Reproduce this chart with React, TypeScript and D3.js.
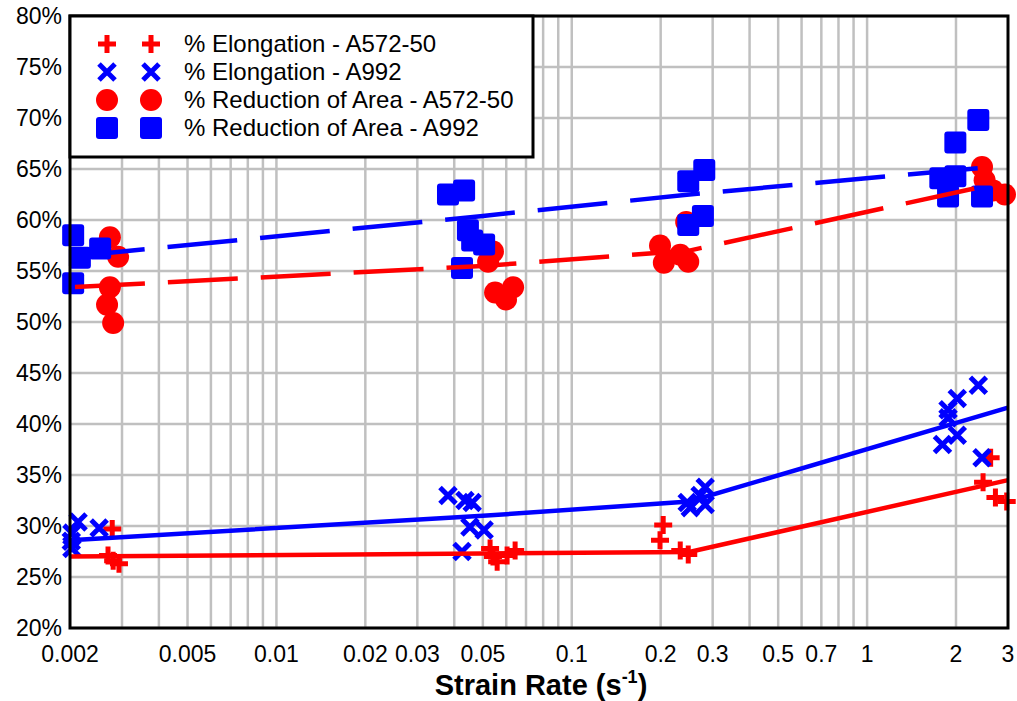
import React, { useMemo } from 'react';
import * as d3 from 'd3';

// [strain rate (1/s), percent]
const elongA572: [number, number][] = [
  [0.00278, 29.7], [0.00269, 27.1], [0.0028, 26.6], [0.00293, 26.3],
  [0.0529, 27.8], [0.0541, 27.0], [0.0559, 26.5], [0.0604, 27.1], [0.0643, 27.6],
  [0.204, 30.1], [0.199, 28.6], [0.233, 27.6], [0.248, 27.2],
  [2.62, 36.7], [2.47, 34.3], [2.72, 32.8], [2.97, 32.4]
];
const elongA992: [number, number][] = [
  [0.00213, 30.4], [0.00251, 29.8], [0.00203, 29.3], [0.00202, 28.5], [0.00203, 27.8],
  [0.0381, 33.0], [0.0435, 32.5], [0.046, 32.3], [0.0452, 29.9], [0.0505, 29.6], [0.0425, 27.5],
  [0.246, 32.3], [0.272, 33.0], [0.283, 33.8], [0.283, 32.1], [0.252, 31.8],
  [2.38, 43.8], [2.02, 42.5], [1.88, 41.4], [1.88, 40.6], [2.02, 38.9], [1.8, 38.0], [2.45, 36.7]
];
const raA572: [number, number][] = [
  [0.00273, 58.3], [0.00291, 56.4], [0.00273, 53.4], [0.00267, 51.7], [0.0028, 49.9],
  [0.0541, 56.9], [0.0521, 55.9], [0.055, 52.9], [0.0599, 52.2], [0.0633, 53.4],
  [0.199, 57.5], [0.205, 55.8], [0.233, 56.6], [0.248, 55.9], [0.244, 59.8],
  [2.45, 65.2], [2.5, 63.9], [2.67, 62.9], [2.93, 62.5]
];
const raA992: [number, number][] = [
  [0.00205, 58.5], [0.00216, 56.3], [0.00253, 57.2], [0.00205, 53.8],
  [0.0381, 62.5], [0.0432, 62.9], [0.0445, 59.0], [0.046, 58.0], [0.0505, 57.6], [0.0425, 55.3],
  [0.248, 63.8], [0.281, 64.9], [0.248, 59.5], [0.278, 60.4],
  [2.38, 69.8], [1.99, 67.6], [1.77, 64.1], [1.99, 64.3], [1.88, 62.3], [2.45, 62.3]
];

// trend lines
const fitElongA572: [number, number][] = [[0.002, 27.0], [0.05, 27.3], [0.25, 27.45], [3, 34.5]];
const fitElongA992: [number, number][] = [[0.002, 28.6], [0.05, 31.0], [0.25, 32.4], [3, 41.6]];
const fitRaA572: [number, number][] = [[0.002, 53.4], [0.05, 55.5], [0.25, 57.0], [2.4, 63.2]];
const fitRaA992: [number, number][] = [[0.002, 56.4], [0.05, 60.4], [0.25, 62.5], [2.4, 65.1]];

const xTicks = [0.002, 0.005, 0.01, 0.02, 0.03, 0.05, 0.1, 0.2, 0.3, 0.5, 0.7, 1, 2, 3];
const xTickLabels = ['0.002', '0.005', '0.01', '0.02', '0.03', '0.05', '0.1', '0.2', '0.3', '0.5', '0.7', '1', '2', '3'];
const yTicks = [20, 25, 30, 35, 40, 45, 50, 55, 60, 65, 70, 75, 80];

const legendLabels = [
  '% Elongation - A572-50',
  '% Elongation - A992',
  '% Reduction of Area - A572-50',
  '% Reduction of Area - A992'
];

const RED = '#ff0000';
const BLUE = '#0000ff';
const FONT = '"Liberation Sans", Arial, sans-serif';

const W = 1017;
const H = 701;
const margin = { top: 16, right: 9, bottom: 73, left: 70 };

type Kind = 'plus' | 'cross' | 'circle' | 'square';

const Marker = ({ kind, x, y, color }: { kind: Kind; x: number; y: number; color: string }) => {
  if (kind === 'plus') {
    return <path d={`M${x - 9},${y}H${x + 9}M${x},${y - 9}V${y + 9}`} stroke={color} strokeWidth={5} fill="none" />;
  }
  if (kind === 'cross') {
    return <path d={`M${x - 8},${y - 8}L${x + 8},${y + 8}M${x - 8},${y + 8}L${x + 8},${y - 8}`} stroke={color} strokeWidth={5} fill="none" />;
  }
  if (kind === 'circle') {
    return <circle cx={x} cy={y} r={11} fill={color} />;
  }
  return <rect x={x - 11} y={y - 11} width={22} height={22} rx={3} fill={color} />;
};

const App = () => {
  const innerWidth = W - margin.left - margin.right;
  const innerHeight = H - margin.top - margin.bottom;

  const { xScale, yScale, line } = useMemo(() => {
    const xScale = d3.scaleLog().domain([0.002, 3]).range([0, innerWidth]);
    const yScale = d3.scaleLinear().domain([20, 80]).range([innerHeight, 0]);
    const line = d3.line<[number, number]>()
      .x(d => xScale(d[0]))
      .y(d => yScale(d[1]));
    return { xScale, yScale, line };
  }, [innerWidth, innerHeight]);

  const xGrid = xScale.ticks().filter(t => t > 0.002 * 1.001 && t < 3 * 0.999);

  const scatter: { data: [number, number][]; kind: Kind; color: string }[] = [
    { data: elongA572, kind: 'plus', color: RED },
    { data: elongA992, kind: 'cross', color: BLUE },
    { data: raA572, kind: 'circle', color: RED },
    { data: raA992, kind: 'square', color: BLUE }
  ];

  const legendKinds: { kind: Kind; color: string }[] = [
    { kind: 'plus', color: RED },
    { kind: 'cross', color: BLUE },
    { kind: 'circle', color: RED },
    { kind: 'square', color: BLUE }
  ];

  return (
    <div style={{ position: 'absolute', left: 0, top: 0 }}>
      <svg width={W} height={H} style={{ display: 'block', fontFamily: FONT, background: '#fff' }}>
        <g transform={`translate(${margin.left}, ${margin.top})`}>
          {/* Grid */}
          {xGrid.map(t => (
            <line key={`gx-${t}`} x1={xScale(t)} x2={xScale(t)} y1={0} y2={innerHeight} stroke="#c0c0c0" strokeWidth={2.5} />
          ))}
          {yTicks.map(t => (
            <line key={`gy-${t}`} x1={0} x2={innerWidth} y1={yScale(t)} y2={yScale(t)} stroke="#c0c0c0" strokeWidth={2.5} />
          ))}

          {/* Points */}
          {scatter.map((s, si) => (
            <g key={`s-${si}`}>
              {s.data.map((d, i) => (
                <Marker key={i} kind={s.kind} x={xScale(d[0])} y={yScale(d[1])} color={s.color} />
              ))}
            </g>
          ))}

          {/* Trend lines */}
          <path d={line(fitElongA572) || ''} fill="none" stroke={RED} strokeWidth={4.5} />
          <path d={line(fitElongA992) || ''} fill="none" stroke={BLUE} strokeWidth={4.5} />
          <path d={line(fitRaA572) || ''} fill="none" stroke={RED} strokeWidth={4.5} strokeDasharray="70 23" strokeDashoffset={88} />
          <path d={line(fitRaA992) || ''} fill="none" stroke={BLUE} strokeWidth={4.5} strokeDasharray="70 23" strokeDashoffset={88} />

          {/* Frame */}
          <rect x={0} y={0} width={innerWidth} height={innerHeight} fill="none" stroke="#000" strokeWidth={3} />

          {/* Y labels */}
          {yTicks.map(t => (
            <text key={`yl-${t}`} x={-8} y={yScale(t) + 8} textAnchor="end" fontSize={23} fill="#000">
              {t}%
            </text>
          ))}

          {/* X labels */}
          {xTicks.map((t, i) => (
            <text key={`xl-${t}`} x={xScale(t)} y={innerHeight + 34} textAnchor="middle" fontSize={23} fill="#000">
              {xTickLabels[i]}
            </text>
          ))}

          {/* Axis title */}
          <text x={innerWidth / 2 + 2} y={innerHeight + 67} textAnchor="middle" fontSize={29} fontWeight="bold" fill="#000">
            Strain Rate (s<tspan fontSize={18} dy={-12}>-1</tspan><tspan dy={12}>)</tspan>
          </text>

          {/* Legend */}
          <g>
            <rect x={0} y={0} width={463} height={141} fill="#fff" stroke="#000" strokeWidth={3} />
            {legendLabels.map((label, i) => {
              const cy = 28 + i * 28;
              return (
                <g key={`lg-${i}`}>
                  <Marker kind={legendKinds[i].kind} x={37} y={cy} color={legendKinds[i].color} />
                  <Marker kind={legendKinds[i].kind} x={81} y={cy} color={legendKinds[i].color} />
                  <text x={114} y={cy + 8} fontSize={24} fill="#000">{label}</text>
                </g>
              );
            })}
          </g>
        </g>
      </svg>
    </div>
  );
};

export default App;
